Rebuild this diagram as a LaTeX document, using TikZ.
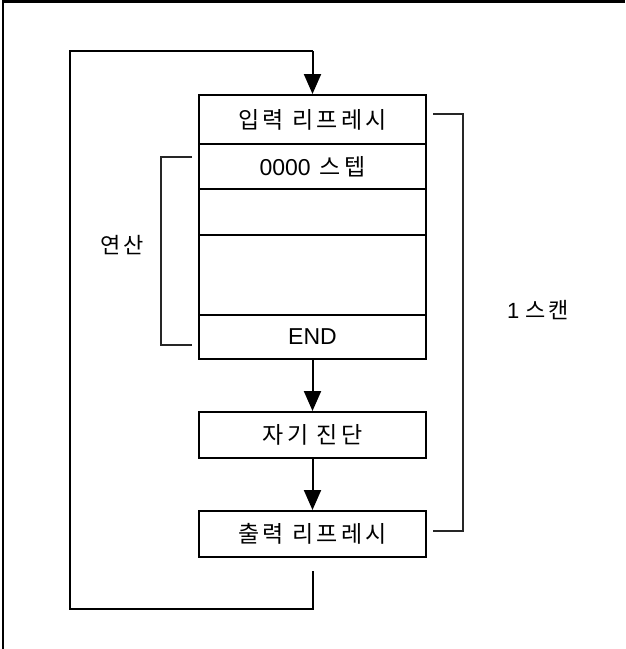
\documentclass[tikz,border=0pt]{standalone}
\usepackage{fontspec}
\setmainfont{Liberation Sans}
\newfontfamily\kr[LetterSpace=14]{Noto Sans CJK KR}
\usetikzlibrary{arrows.meta}
\begin{document}
\begin{tikzpicture}[x=1pt,y=-1pt,
  box/.style={draw=black,line width=2pt,minimum width=227pt,inner sep=0pt,font=\fontsize{23}{27}\selectfont},
  flow/.style={line width=2pt,-{Triangle[width=17pt,length=20pt]}},
  loopline/.style={line width=2pt},
  brk/.style={line width=1.1pt,draw=black!85},
  lbl/.style={font=\fontsize{22}{26}\selectfont,inner sep=0pt}]
\useasboundingbox (0,0) rectangle (625,649);
% frame (top and left edges)
\draw[line width=2.2pt] (3,649) -- (3,1.5) -- (625,1.5);
% main stacked box
\node[box,minimum height=49pt] (in) at (312.5,119.5) {\kr 입력 리프레시};
\node[box,minimum height=45pt] (step) at (312.5,166.5) {0000\hspace{0.4em}{\kr 스텝}};
\node[box,minimum height=46pt] (b1) at (312.5,212) {};
\node[box,minimum height=80pt] (b2) at (312.5,275) {};
\node[box,minimum height=44pt] (end) at (312.5,337) {END};
\node[box,minimum height=46pt] (diag) at (312.5,435) {\kr 자기 진단};
\node[box,minimum height=46pt] (out) at (312.5,534) {\kr 출력 리프레시};
% flow arrows
\draw[flow] (end.south) -- (diag.north);
\draw[flow] (diag.south) -- (out.north);
% return loop
\coordinate (ret) at (312.5,571);
\coordinate (bl) at (70,609);
\coordinate (tl) at (70,51);
\draw[loopline] (ret) -- (ret |- bl) -- (bl) -- (tl) -- (tl -| in.north);
\draw[flow] (tl -| in.north) -- (in.north);
% brackets
\coordinate (r1) at (463,114);
\coordinate (r2) at (463,531);
\draw[brk] (433,114) -- (r1) -- (r2) -- (433,531);
\coordinate (l1) at (161,157);
\coordinate (l2) at (161,345);
\draw[brk] (192,157) -- (l1) -- (l2) -- (192,345);
% labels
\node[lbl] (calc) at (122,245) {\kr 연산};
\node[lbl] (scan) at (538,310) {1 {\kr 스캔}};
\end{tikzpicture}
\end{document}
